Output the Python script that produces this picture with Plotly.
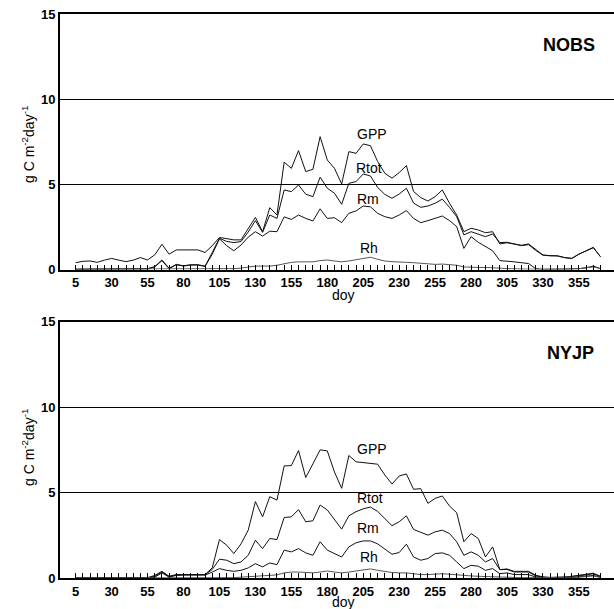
import plotly.graph_objects as go

days = list(range(5, 371, 5))

label_days = [5, 30, 55, 80, 105, 130, 155, 180, 205, 230, 255, 280, 305, 330, 355]

# ---------------- NOBS (top panel) ----------------
nobs_gpp = [0.40, 0.48, 0.50, 0.42, 0.55, 0.65, 0.55, 0.46, 0.55, 0.70,
            0.56, 0.86, 1.48, 0.90, 1.15, 1.15, 1.15, 1.15, 1.00, 1.40,
            1.88, 1.82, 1.74, 1.74, 2.40, 3.06, 2.22, 3.63, 3.20, 6.30,
            5.94, 6.98, 5.75, 5.88, 7.80, 6.43, 5.94, 5.02, 6.92, 6.82,
            7.37, 7.27, 6.34, 5.65, 5.36, 5.69, 6.10, 4.58, 4.22, 4.02,
            4.28, 4.67, 3.89, 3.20, 2.22, 2.42, 2.32, 2.16, 2.22, 1.50,
            1.57, 1.50, 1.42, 1.50, 1.15, 0.85, 0.80, 0.80, 0.70, 0.65,
            0.90, 1.10, 1.30, 0.75]
nobs_rtot = [0.02, 0.02, 0.02, 0.02, 0.02, 0.02, 0.02, 0.02, 0.03, 0.05,
             0.05, 0.17, 0.56, 0.07, 0.30, 0.22, 0.28, 0.28, 0.20, 1.00,
             1.83, 1.65, 1.58, 1.64, 2.20, 2.87, 2.18, 3.20, 3.00, 4.67,
             4.57, 4.96, 4.42, 4.28, 5.42, 4.77, 4.48, 3.83, 5.06, 5.16,
             5.61, 5.49, 4.82, 4.41, 4.18, 4.43, 4.77, 3.90, 3.65, 3.73,
             3.89, 4.13, 3.65, 3.10, 2.03, 2.22, 2.09, 1.93, 2.09, 1.58,
             1.60, 1.48, 1.40, 1.46, 1.12, 0.84, 0.80, 0.80, 0.70, 0.65,
             0.90, 1.10, 1.28, 0.75]
nobs_rm = [0.00, 0.00, 0.00, 0.00, 0.00, 0.00, 0.00, 0.00, 0.01, 0.03,
           0.03, 0.15, 0.52, 0.05, 0.28, 0.20, 0.26, 0.26, 0.18, 0.90,
           1.80, 1.40, 1.10, 1.44, 1.90, 2.22, 1.96, 2.25, 2.22, 3.09,
           2.94, 3.20, 3.00, 2.85, 3.56, 3.00, 3.04, 2.75, 3.30, 3.44,
           3.73, 3.68, 3.30, 3.10, 3.00, 3.20, 3.46, 3.00, 2.75, 2.87,
           3.00, 3.14, 2.87, 2.52, 1.24, 1.93, 1.60, 1.35, 1.10, 0.52,
           0.50, 0.45, 0.40, 0.35, 0.05, 0.00, 0.00, 0.00, 0.00, 0.02,
           0.05, 0.10, 0.20, 0.05]
nobs_rh = [0.02, 0.02, 0.02, 0.02, 0.02, 0.02, 0.02, 0.02, 0.02, 0.02,
           0.02, 0.02, 0.02, 0.02, 0.02, 0.02, 0.02, 0.02, 0.02, 0.02,
           0.03, 0.05, 0.05, 0.08, 0.15, 0.20, 0.20, 0.20, 0.25, 0.35,
           0.42, 0.45, 0.45, 0.45, 0.52, 0.56, 0.50, 0.45, 0.50, 0.58,
           0.68, 0.72, 0.60, 0.50, 0.46, 0.42, 0.42, 0.40, 0.36, 0.30,
           0.30, 0.32, 0.30, 0.25, 0.15, 0.12, 0.12, 0.12, 0.12, 0.08,
           0.05, 0.03, 0.02, 0.02, 0.02, 0.02, 0.02, 0.02, 0.02, 0.02,
           0.05, 0.10, 0.15, 0.05]

# ---------------- NYJP (bottom panel) ----------------
nyjp_gpp = [0.00, 0.00, 0.00, 0.00, 0.00, 0.00, 0.00, 0.00, 0.00, 0.00,
            0.02, 0.15, 0.39, 0.10, 0.20, 0.20, 0.20, 0.20, 0.20, 0.60,
            2.25, 1.92, 1.43, 2.00, 2.80, 4.47, 3.58, 4.76, 4.56, 6.56,
            6.58, 7.46, 5.88, 6.68, 7.50, 7.44, 6.20, 5.25, 7.17, 6.80,
            6.76, 6.72, 6.66, 6.03, 5.50, 5.97, 6.09, 5.19, 5.23, 4.37,
            4.66, 4.80, 4.21, 3.82, 2.12, 2.60, 2.31, 1.23, 1.82, 0.49,
            0.53, 0.39, 0.39, 0.39, 0.16, 0.06, 0.03, 0.03, 0.05, 0.10,
            0.15, 0.20, 0.28, 0.10]
nyjp_rtot = [0.00, 0.00, 0.00, 0.00, 0.00, 0.00, 0.00, 0.00, 0.00, 0.00,
             0.01, 0.10, 0.35, 0.08, 0.18, 0.20, 0.20, 0.20, 0.20, 0.50,
             1.10, 1.04, 0.84, 0.94, 1.33, 2.21, 1.72, 2.31, 2.25, 3.54,
             3.58, 4.00, 3.29, 3.35, 4.27, 3.98, 3.40, 2.86, 3.64, 3.88,
             4.05, 4.15, 3.90, 3.49, 3.06, 3.29, 3.64, 2.84, 2.66, 2.51,
             2.70, 2.80, 2.60, 2.12, 1.33, 1.53, 1.33, 0.94, 1.14, 0.49,
             0.50, 0.35, 0.35, 0.35, 0.12, 0.05, 0.03, 0.03, 0.05, 0.08,
             0.12, 0.18, 0.25, 0.08]
nyjp_rm = [0.00, 0.00, 0.00, 0.00, 0.00, 0.00, 0.00, 0.00, 0.00, 0.00,
           0.00, 0.05, 0.30, 0.05, 0.15, 0.17, 0.17, 0.17, 0.17, 0.35,
           0.55, 0.45, 0.39, 0.45, 0.59, 0.84, 0.65, 0.88, 0.78, 1.63,
           1.53, 1.72, 1.47, 1.33, 2.12, 1.63, 1.43, 1.23, 1.82, 2.06,
           2.17, 2.17, 2.00, 1.72, 1.39, 1.49, 1.98, 1.23, 1.04, 1.14,
           1.43, 1.47, 1.33, 0.94, 0.55, 0.74, 0.69, 0.45, 0.55, 0.25,
           0.30, 0.20, 0.20, 0.20, 0.05, 0.02, 0.02, 0.02, 0.02, 0.04,
           0.07, 0.10, 0.15, 0.05]
nyjp_rh = [0.00, 0.00, 0.00, 0.00, 0.00, 0.00, 0.00, 0.00, 0.00, 0.00,
           0.00, 0.00, 0.00, 0.00, 0.00, 0.00, 0.00, 0.00, 0.00, 0.00,
           0.00, 0.00, 0.02, 0.05, 0.08, 0.12, 0.12, 0.15, 0.18, 0.30,
           0.35, 0.35, 0.32, 0.30, 0.35, 0.41, 0.35, 0.30, 0.35, 0.42,
           0.50, 0.53, 0.45, 0.38, 0.32, 0.30, 0.30, 0.25, 0.20, 0.20,
           0.22, 0.25, 0.22, 0.18, 0.12, 0.12, 0.10, 0.08, 0.08, 0.05,
           0.03, 0.02, 0.02, 0.02, 0.02, 0.02, 0.02, 0.02, 0.02, 0.02,
           0.05, 0.08, 0.12, 0.03]

series_names = ["GPP", "Rtot", "Rm", "Rh"]
panels = [
    ("NOBS", [nobs_gpp, nobs_rtot, nobs_rm, nobs_rh],
     [(211, 7.94), (209, 5.98), (208.5, 4.12), (209, 1.28)], (348, 13.19)),
    ("NYJP", [nyjp_gpp, nyjp_rtot, nyjp_rm, nyjp_rh],
     [(211, 7.54), (209.5, 4.70), (208.6, 2.92), (209, 1.22)], (348.8, 13.14)),
]

FONT = "Liberation Sans, Arial, Helvetica, sans-serif"
line_colors = ["#111111", "#111111", "#111111", "#555555"]

fig = go.Figure()
annotations = []
axis_ids = [("x", "y"), ("x2", "y2")]

for (name, series, lab_pos, name_pos), (xa, ya) in zip(panels, axis_ids):
    for s, vals, col in zip(series_names, series, line_colors):
        fig.add_trace(go.Scatter(x=days, y=vals, mode="lines", name=s,
                                 line=dict(color=col, width=1),
                                 xaxis=xa, yaxis=ya, showlegend=False))
    for s, (lx, ly) in zip(series_names, lab_pos):
        annotations.append(dict(x=lx, y=ly, xref=xa, yref=ya, text=s,
                                showarrow=False,
                                font=dict(size=14, color="black", family=FONT)))
    annotations.append(dict(x=name_pos[0], y=name_pos[1], xref=xa, yref=ya,
                            text=name, showarrow=False,
                            font=dict(size=18, color="black", family=FONT,
                                      weight="bold")))

tickvals = days
ticktext = [str(d) if d in label_days else "" for d in days]

tickfont = dict(size=13, color="black", family=FONT, weight="bold")
xcommon = dict(range=[-5.9, 379.4], tickmode="array", tickvals=tickvals,
               ticktext=ticktext, ticks="inside", ticklen=5, tickwidth=1,
               tickcolor="black", showline=True, linecolor="black",
               linewidth=2, mirror=True, showgrid=False, zeroline=False,
               tickfont=tickfont)
ycommon = dict(range=[0, 15], tickmode="array", tickvals=[0, 5, 10, 15],
               ticks="", showline=True, linecolor="black", linewidth=2,
               showgrid=True, gridcolor="black", gridwidth=1, zeroline=False,
               tickfont=tickfont)

H = 609
mt, mb = 14, 31
ph = H - mt - mb

def py(p):
    return (H - mb - p) / ph

top_dom = [py(269.5), 1.0]
bot_dom = [0.0, py(321.7)]

# axis titles as annotations
yt = "g C m<sup>-2</sup>day<sup>-1</sup>"
for yc in [py(145), py(448)]:
    annotations.append(dict(x=(28 - 60) / 554, y=yc, xref="paper", yref="paper",
                            text=yt, textangle=-90, showarrow=False,
                            xanchor="center", yanchor="middle",
                            font=dict(size=14, color="black", family=FONT)))
for yc in [py(295), py(602)]:
    annotations.append(dict(x=(343 - 60) / 554, y=yc, xref="paper", yref="paper",
                            text="doy", showarrow=False,
                            xanchor="center", yanchor="middle",
                            font=dict(size=14, color="black", family=FONT)))

fig.update_layout(
    width=614, height=609,
    margin=dict(l=60, r=0, t=mt, b=mb),
    paper_bgcolor="white", plot_bgcolor="white",
    xaxis=dict(domain=[0, 1], anchor="y", **xcommon),
    yaxis=dict(domain=top_dom, anchor="x", **ycommon),
    xaxis2=dict(domain=[0, 1], anchor="y2", **xcommon),
    yaxis2=dict(domain=bot_dom, anchor="x2", **ycommon),
    annotations=annotations,
    font=dict(family=FONT, color="black"),
)

fig.write_html("out.html", config={"displayModeBar": False},
               post_script="document.body.style.margin='0';document.body.style.padding='0';")
